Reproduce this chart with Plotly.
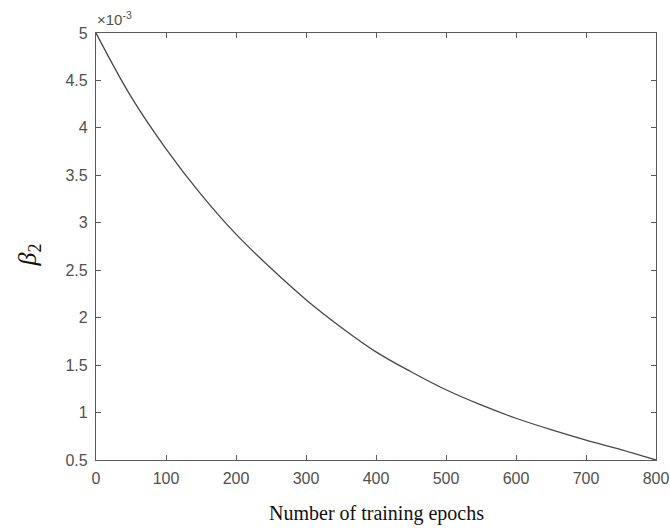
import plotly.graph_objects as go

# Data (beta_2 values in units of 1e-3)
epochs = [0, 50, 100, 150, 200, 250, 300, 350, 400, 450, 500, 550, 600, 650, 700, 750, 800]
beta2 = [5.0, 4.33, 3.78, 3.30, 2.88, 2.52, 2.19, 1.90, 1.64, 1.43, 1.24, 1.08, 0.94, 0.82, 0.71, 0.61, 0.5]

x_ticks = [0, 100, 200, 300, 400, 500, 600, 700, 800]
x_tick_labels = ["0", "100", "200", "300", "400", "500", "600", "700", "800"]
y_ticks = [0.5, 1, 1.5, 2, 2.5, 3, 3.5, 4, 4.5, 5]
y_tick_labels = ["0.5", "1", "1.5", "2", "2.5", "3", "3.5", "4", "4.5", "5"]

x_title = "Number of training epochs"
y_title = "<i>β</i><sub>2</sub>"
exponent_label = "×10<sup>-3</sup>"

axis_color = "#5a5a5a"
tick_font = dict(family="Liberation Sans, Arial, sans-serif", size=16, color="#505050")

fig = go.Figure()
fig.add_trace(go.Scatter(
    x=epochs, y=beta2, mode="lines",
    line=dict(color="#474747", width=1.3, shape="spline", smoothing=1.0),
    showlegend=False, hoverinfo="skip",
))

common = dict(
    showline=True, linecolor=axis_color, linewidth=1.3,
    mirror="ticks", ticks="inside", ticklen=5, tickcolor=axis_color, tickwidth=1,
    showgrid=False, zeroline=False, tickfont=tick_font, automargin=False,
)

fig.update_xaxes(range=[0, 800], tickvals=x_ticks, ticktext=x_tick_labels,
                 ticklabelstandoff=4, **common)
fig.update_yaxes(range=[0.5, 5], tickvals=y_ticks, ticktext=y_tick_labels,
                 ticklabelstandoff=4, **common)

fig.update_layout(
    width=670, height=528,
    margin=dict(l=96, r=14, t=33, b=68),
    paper_bgcolor="white", plot_bgcolor="white",
    annotations=[
        dict(text=x_title, xref="paper", yref="paper", x=0.5, y=0, yshift=-53,
             showarrow=False, xanchor="center", yanchor="middle",
             font=dict(family="Liberation Serif, Times New Roman, serif", size=20, color="#111111")),
        dict(text=y_title, xref="paper", yref="paper", x=0, y=0.5, xshift=-68, yshift=-9,
             showarrow=False, xanchor="center", yanchor="middle", textangle=-90,
             font=dict(family="Liberation Serif, Times New Roman, serif", size=26, color="#111111")),
        dict(text=exponent_label, xref="paper", yref="paper", x=0, y=1, xshift=-1, yshift=3,
             showarrow=False, xanchor="left", yanchor="bottom",
             font=dict(family="Liberation Sans, Arial, sans-serif", size=15, color="#505050")),
    ],
)

# remove the default page margin so the 670x528 figure fills the window exactly
fig.write_html(
    "out.html",
    config={"displayModeBar": False},
    post_script="document.body.style.margin='0';document.body.style.overflow='hidden';",
)
